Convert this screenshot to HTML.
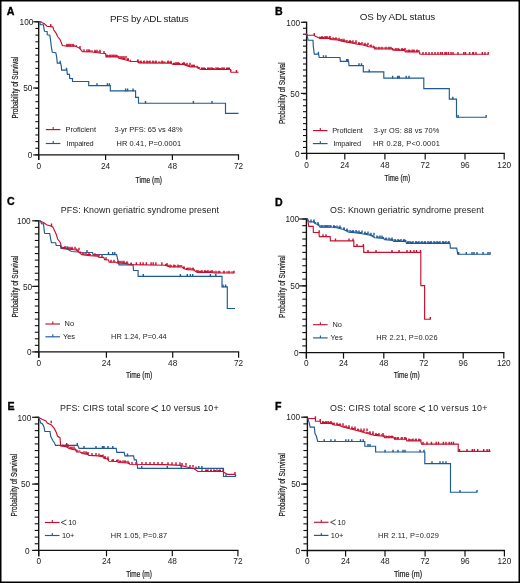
<!DOCTYPE html>
<html><head><meta charset="utf-8"><style>
html,body{margin:0;padding:0;background:#fff;}
svg{display:block;will-change:transform;}
text{font-family:"Liberation Sans",sans-serif;fill:#1a1a1a;}
.tk{font-size:9px;}
.lg{font-size:7.4px;}
.al{font-size:9.2px;stroke:#1a1a1a;stroke-width:0.22px;}
.ti{font-size:9.9px;}
.ti2{font-size:8.9px;}
.pl{font-size:10.6px;font-weight:bold;fill:#000;stroke:#000;stroke-width:0.35px;}
</style></head><body>
<svg width="520" height="583" viewBox="0 0 520 583">
<rect x="0.75" y="0.75" width="518.5" height="581.5" fill="#fff" stroke="#000" stroke-width="1.5"/>
<text x="6.8" y="14.8" class="pl">A</text>
<text x="275.1" y="15" class="pl">B</text>
<text x="7" y="205.3" class="pl">C</text>
<text x="275.1" y="205.7" class="pl">D</text>
<text x="7.4" y="409.8" class="pl">E</text>
<text x="275.1" y="409.8" class="pl">F</text>
<text x="110" y="21.5" class="ti" textLength="78.7" lengthAdjust="spacing">PFS by ADL status</text>
<text x="359.8" y="20.3" class="ti" textLength="75.4" lengthAdjust="spacing">OS by ADL status</text>
<text x="60.8" y="213" class="ti2" textLength="158.1" lengthAdjust="spacing">PFS: Known geriatric syndrome present</text>
<text x="330" y="213.4" class="ti2" textLength="153.7" lengthAdjust="spacing">OS: Known geriatric syndrome present</text>
<text x="59.9" y="411.2" class="ti2" textLength="89.2" lengthAdjust="spacing">PFS: CIRS total score</text>
<path d="M157.9,405.6 L151.5,408.65 L157.9,411.7" fill="none" stroke="#1a1a1a" stroke-width="0.95"/>
<text x="161" y="411.2" class="ti2" textLength="57.6" lengthAdjust="spacing">10 versus 10+</text>
<text x="330" y="411.2" class="ti2" textLength="86.2" lengthAdjust="spacing">OS: CIRS total score</text>
<path d="M425,406 L419,408.8 L425,411.6" fill="none" stroke="#1a1a1a" stroke-width="0.95"/>
<text x="428.1" y="411.2" class="ti2" textLength="59.3" lengthAdjust="spacing">10 versus 10+</text>
<text transform="translate(18,118.6) rotate(-90)" x="0" y="0" class="al" textLength="61.8" lengthAdjust="spacingAndGlyphs">Probability of Survival</text>
<text transform="translate(285.1,124.1) rotate(-90)" x="0" y="0" class="al" textLength="61.7" lengthAdjust="spacingAndGlyphs">Probability of Survival</text>
<text transform="translate(17.6,317.6) rotate(-90)" x="0" y="0" class="al" textLength="61.8" lengthAdjust="spacingAndGlyphs">Probability of Survival</text>
<text transform="translate(285.1,317.9) rotate(-90)" x="0" y="0" class="al" textLength="62.5" lengthAdjust="spacingAndGlyphs">Probability of Survival</text>
<text transform="translate(16.7,516.4) rotate(-90)" x="0" y="0" class="al" textLength="62.5" lengthAdjust="spacingAndGlyphs">Probability of Survival</text>
<text transform="translate(285.1,516.4) rotate(-90)" x="0" y="0" class="al" textLength="63.3" lengthAdjust="spacingAndGlyphs">Probability of Survival</text>
<text x="135.6" y="182.6" class="al" textLength="26.4" lengthAdjust="spacingAndGlyphs">Time (m)</text>
<text x="384.4" y="181.3" class="al" textLength="25.8" lengthAdjust="spacingAndGlyphs">Time (m)</text>
<text x="126" y="377.7" class="al" textLength="26.3" lengthAdjust="spacingAndGlyphs">Time (m)</text>
<text x="393.7" y="378" class="al" textLength="26.1" lengthAdjust="spacingAndGlyphs">Time (m)</text>
<text x="126.2" y="576.5" class="al" textLength="25.7" lengthAdjust="spacingAndGlyphs">Time (m)</text>
<text x="393.9" y="576.5" class="al" textLength="28.3" lengthAdjust="spacingAndGlyphs">Time (m)</text>
<line x1="38.7" y1="21.2" x2="38.7" y2="159.9" stroke="#111" stroke-width="1.35"/>
<line x1="38.7" y1="154.9" x2="239.1" y2="154.9" stroke="#111" stroke-width="1.35"/>
<line x1="35.4" y1="21.8" x2="38.7" y2="21.8" stroke="#111" stroke-width="1.1"/>
<line x1="35.4" y1="28.45" x2="38.7" y2="28.45" stroke="#111" stroke-width="1.1"/>
<line x1="35.4" y1="35.11" x2="38.7" y2="35.11" stroke="#111" stroke-width="1.1"/>
<line x1="35.4" y1="41.77" x2="38.7" y2="41.77" stroke="#111" stroke-width="1.1"/>
<line x1="35.4" y1="48.42" x2="38.7" y2="48.42" stroke="#111" stroke-width="1.1"/>
<line x1="35.4" y1="55.08" x2="38.7" y2="55.08" stroke="#111" stroke-width="1.1"/>
<line x1="35.4" y1="61.73" x2="38.7" y2="61.73" stroke="#111" stroke-width="1.1"/>
<line x1="35.4" y1="68.38" x2="38.7" y2="68.38" stroke="#111" stroke-width="1.1"/>
<line x1="35.4" y1="75.04" x2="38.7" y2="75.04" stroke="#111" stroke-width="1.1"/>
<line x1="35.4" y1="81.69" x2="38.7" y2="81.69" stroke="#111" stroke-width="1.1"/>
<line x1="35.4" y1="88.35" x2="38.7" y2="88.35" stroke="#111" stroke-width="1.1"/>
<line x1="35.4" y1="95" x2="38.7" y2="95" stroke="#111" stroke-width="1.1"/>
<line x1="35.4" y1="101.66" x2="38.7" y2="101.66" stroke="#111" stroke-width="1.1"/>
<line x1="35.4" y1="108.31" x2="38.7" y2="108.31" stroke="#111" stroke-width="1.1"/>
<line x1="35.4" y1="114.97" x2="38.7" y2="114.97" stroke="#111" stroke-width="1.1"/>
<line x1="35.4" y1="121.62" x2="38.7" y2="121.62" stroke="#111" stroke-width="1.1"/>
<line x1="35.4" y1="128.28" x2="38.7" y2="128.28" stroke="#111" stroke-width="1.1"/>
<line x1="35.4" y1="134.94" x2="38.7" y2="134.94" stroke="#111" stroke-width="1.1"/>
<line x1="35.4" y1="141.59" x2="38.7" y2="141.59" stroke="#111" stroke-width="1.1"/>
<line x1="35.4" y1="148.25" x2="38.7" y2="148.25" stroke="#111" stroke-width="1.1"/>
<line x1="35.4" y1="154.9" x2="38.7" y2="154.9" stroke="#111" stroke-width="1.1"/>
<line x1="33.2" y1="21.8" x2="38.7" y2="21.8" stroke="#111" stroke-width="1.2"/>
<text x="33.4" y="25" text-anchor="end" class="tk" textLength="13.8" lengthAdjust="spacingAndGlyphs">100</text>
<line x1="33.2" y1="88" x2="38.7" y2="88" stroke="#111" stroke-width="1.2"/>
<text x="32.4" y="91.2" text-anchor="end" class="tk" textLength="9.2" lengthAdjust="spacingAndGlyphs">50</text>
<line x1="33.2" y1="154.9" x2="38.7" y2="154.9" stroke="#111" stroke-width="1.2"/>
<text x="32.3" y="158.1" text-anchor="end" class="tk" textLength="4.6" lengthAdjust="spacingAndGlyphs">0</text>
<line x1="38.7" y1="154.9" x2="38.7" y2="159.9" stroke="#111" stroke-width="1.2"/>
<text x="38.7" y="169.1" text-anchor="middle" class="tk" textLength="4.6" lengthAdjust="spacingAndGlyphs">0</text>
<line x1="105.6" y1="154.9" x2="105.6" y2="159.9" stroke="#111" stroke-width="1.2"/>
<text x="105.6" y="169.1" text-anchor="middle" class="tk" textLength="9.2" lengthAdjust="spacingAndGlyphs">24</text>
<line x1="172.4" y1="154.9" x2="172.4" y2="159.9" stroke="#111" stroke-width="1.2"/>
<text x="172.4" y="169.1" text-anchor="middle" class="tk" textLength="9.2" lengthAdjust="spacingAndGlyphs">48</text>
<line x1="238.5" y1="154.9" x2="238.5" y2="159.9" stroke="#111" stroke-width="1.2"/>
<text x="238.5" y="169.1" text-anchor="middle" class="tk" textLength="9.2" lengthAdjust="spacingAndGlyphs">72</text>
<line x1="306.6" y1="21.7" x2="306.6" y2="159.4" stroke="#111" stroke-width="1.35"/>
<line x1="306.6" y1="153.4" x2="504.8" y2="153.4" stroke="#111" stroke-width="1.35"/>
<line x1="303" y1="22.3" x2="306.6" y2="22.3" stroke="#111" stroke-width="1.1"/>
<line x1="303" y1="28.26" x2="306.6" y2="28.26" stroke="#111" stroke-width="1.1"/>
<line x1="303" y1="34.22" x2="306.6" y2="34.22" stroke="#111" stroke-width="1.1"/>
<line x1="303" y1="40.18" x2="306.6" y2="40.18" stroke="#111" stroke-width="1.1"/>
<line x1="303" y1="46.14" x2="306.6" y2="46.14" stroke="#111" stroke-width="1.1"/>
<line x1="303" y1="52.1" x2="306.6" y2="52.1" stroke="#111" stroke-width="1.1"/>
<line x1="303" y1="58.05" x2="306.6" y2="58.05" stroke="#111" stroke-width="1.1"/>
<line x1="303" y1="64.01" x2="306.6" y2="64.01" stroke="#111" stroke-width="1.1"/>
<line x1="303" y1="69.97" x2="306.6" y2="69.97" stroke="#111" stroke-width="1.1"/>
<line x1="303" y1="75.93" x2="306.6" y2="75.93" stroke="#111" stroke-width="1.1"/>
<line x1="303" y1="81.89" x2="306.6" y2="81.89" stroke="#111" stroke-width="1.1"/>
<line x1="303" y1="87.85" x2="306.6" y2="87.85" stroke="#111" stroke-width="1.1"/>
<line x1="303" y1="93.81" x2="306.6" y2="93.81" stroke="#111" stroke-width="1.1"/>
<line x1="303" y1="99.77" x2="306.6" y2="99.77" stroke="#111" stroke-width="1.1"/>
<line x1="303" y1="105.73" x2="306.6" y2="105.73" stroke="#111" stroke-width="1.1"/>
<line x1="303" y1="111.69" x2="306.6" y2="111.69" stroke="#111" stroke-width="1.1"/>
<line x1="303" y1="117.65" x2="306.6" y2="117.65" stroke="#111" stroke-width="1.1"/>
<line x1="303" y1="123.6" x2="306.6" y2="123.6" stroke="#111" stroke-width="1.1"/>
<line x1="303" y1="129.56" x2="306.6" y2="129.56" stroke="#111" stroke-width="1.1"/>
<line x1="303" y1="135.52" x2="306.6" y2="135.52" stroke="#111" stroke-width="1.1"/>
<line x1="303" y1="141.48" x2="306.6" y2="141.48" stroke="#111" stroke-width="1.1"/>
<line x1="303" y1="147.44" x2="306.6" y2="147.44" stroke="#111" stroke-width="1.1"/>
<line x1="303" y1="153.4" x2="306.6" y2="153.4" stroke="#111" stroke-width="1.1"/>
<line x1="300.9" y1="22.3" x2="306.6" y2="22.3" stroke="#111" stroke-width="1.2"/>
<text x="300.1" y="25.5" text-anchor="end" class="tk" textLength="13.8" lengthAdjust="spacingAndGlyphs">100</text>
<line x1="300.9" y1="93.4" x2="306.6" y2="93.4" stroke="#111" stroke-width="1.2"/>
<text x="299.5" y="96.6" text-anchor="end" class="tk" textLength="9.2" lengthAdjust="spacingAndGlyphs">50</text>
<line x1="300.9" y1="153.4" x2="306.6" y2="153.4" stroke="#111" stroke-width="1.2"/>
<text x="299.5" y="156.6" text-anchor="end" class="tk" textLength="4.6" lengthAdjust="spacingAndGlyphs">0</text>
<line x1="306.6" y1="153.4" x2="306.6" y2="159.4" stroke="#111" stroke-width="1.2"/>
<text x="306.6" y="167.6" text-anchor="middle" class="tk" textLength="4.6" lengthAdjust="spacingAndGlyphs">0</text>
<line x1="344.8" y1="153.4" x2="344.8" y2="159.4" stroke="#111" stroke-width="1.2"/>
<text x="344.8" y="167.6" text-anchor="middle" class="tk" textLength="9.2" lengthAdjust="spacingAndGlyphs">24</text>
<line x1="384.9" y1="153.4" x2="384.9" y2="159.4" stroke="#111" stroke-width="1.2"/>
<text x="384.9" y="167.6" text-anchor="middle" class="tk" textLength="9.2" lengthAdjust="spacingAndGlyphs">48</text>
<line x1="425.2" y1="153.4" x2="425.2" y2="159.4" stroke="#111" stroke-width="1.2"/>
<text x="425.2" y="167.6" text-anchor="middle" class="tk" textLength="9.2" lengthAdjust="spacingAndGlyphs">72</text>
<line x1="465" y1="153.4" x2="465" y2="159.4" stroke="#111" stroke-width="1.2"/>
<text x="465" y="167.6" text-anchor="middle" class="tk" textLength="9.2" lengthAdjust="spacingAndGlyphs">96</text>
<line x1="504.2" y1="153.4" x2="504.2" y2="159.4" stroke="#111" stroke-width="1.2"/>
<text x="504.2" y="167.6" text-anchor="middle" class="tk" textLength="13.8" lengthAdjust="spacingAndGlyphs">120</text>
<line x1="38.8" y1="220.2" x2="38.8" y2="357.7" stroke="#111" stroke-width="1.35"/>
<line x1="38.8" y1="351.9" x2="239.2" y2="351.9" stroke="#111" stroke-width="1.35"/>
<line x1="34.8" y1="220.8" x2="38.8" y2="220.8" stroke="#111" stroke-width="1.1"/>
<line x1="34.8" y1="227.36" x2="38.8" y2="227.36" stroke="#111" stroke-width="1.1"/>
<line x1="34.8" y1="233.91" x2="38.8" y2="233.91" stroke="#111" stroke-width="1.1"/>
<line x1="34.8" y1="240.47" x2="38.8" y2="240.47" stroke="#111" stroke-width="1.1"/>
<line x1="34.8" y1="247.02" x2="38.8" y2="247.02" stroke="#111" stroke-width="1.1"/>
<line x1="34.8" y1="253.57" x2="38.8" y2="253.57" stroke="#111" stroke-width="1.1"/>
<line x1="34.8" y1="260.13" x2="38.8" y2="260.13" stroke="#111" stroke-width="1.1"/>
<line x1="34.8" y1="266.69" x2="38.8" y2="266.69" stroke="#111" stroke-width="1.1"/>
<line x1="34.8" y1="273.24" x2="38.8" y2="273.24" stroke="#111" stroke-width="1.1"/>
<line x1="34.8" y1="279.8" x2="38.8" y2="279.8" stroke="#111" stroke-width="1.1"/>
<line x1="34.8" y1="286.35" x2="38.8" y2="286.35" stroke="#111" stroke-width="1.1"/>
<line x1="34.8" y1="292.9" x2="38.8" y2="292.9" stroke="#111" stroke-width="1.1"/>
<line x1="34.8" y1="299.46" x2="38.8" y2="299.46" stroke="#111" stroke-width="1.1"/>
<line x1="34.8" y1="306.01" x2="38.8" y2="306.01" stroke="#111" stroke-width="1.1"/>
<line x1="34.8" y1="312.57" x2="38.8" y2="312.57" stroke="#111" stroke-width="1.1"/>
<line x1="34.8" y1="319.12" x2="38.8" y2="319.12" stroke="#111" stroke-width="1.1"/>
<line x1="34.8" y1="325.68" x2="38.8" y2="325.68" stroke="#111" stroke-width="1.1"/>
<line x1="34.8" y1="332.24" x2="38.8" y2="332.24" stroke="#111" stroke-width="1.1"/>
<line x1="34.8" y1="338.79" x2="38.8" y2="338.79" stroke="#111" stroke-width="1.1"/>
<line x1="34.8" y1="345.34" x2="38.8" y2="345.34" stroke="#111" stroke-width="1.1"/>
<line x1="34.8" y1="351.9" x2="38.8" y2="351.9" stroke="#111" stroke-width="1.1"/>
<line x1="32.2" y1="220.8" x2="38.8" y2="220.8" stroke="#111" stroke-width="1.2"/>
<text x="30.7" y="224" text-anchor="end" class="tk" textLength="13.8" lengthAdjust="spacingAndGlyphs">100</text>
<line x1="32.2" y1="286.4" x2="38.8" y2="286.4" stroke="#111" stroke-width="1.2"/>
<text x="32.1" y="289.6" text-anchor="end" class="tk" textLength="9.2" lengthAdjust="spacingAndGlyphs">50</text>
<line x1="32.2" y1="351.9" x2="38.8" y2="351.9" stroke="#111" stroke-width="1.2"/>
<text x="31.6" y="355.1" text-anchor="end" class="tk" textLength="4.6" lengthAdjust="spacingAndGlyphs">0</text>
<line x1="38.8" y1="351.9" x2="38.8" y2="357.7" stroke="#111" stroke-width="1.2"/>
<text x="38.8" y="365.6" text-anchor="middle" class="tk" textLength="4.6" lengthAdjust="spacingAndGlyphs">0</text>
<line x1="106.4" y1="351.9" x2="106.4" y2="357.7" stroke="#111" stroke-width="1.2"/>
<text x="106.4" y="365.6" text-anchor="middle" class="tk" textLength="9.2" lengthAdjust="spacingAndGlyphs">24</text>
<line x1="172.7" y1="351.9" x2="172.7" y2="357.7" stroke="#111" stroke-width="1.2"/>
<text x="172.7" y="365.6" text-anchor="middle" class="tk" textLength="9.2" lengthAdjust="spacingAndGlyphs">48</text>
<line x1="238.6" y1="351.9" x2="238.6" y2="357.7" stroke="#111" stroke-width="1.2"/>
<text x="238.6" y="365.6" text-anchor="middle" class="tk" textLength="9.2" lengthAdjust="spacingAndGlyphs">72</text>
<line x1="306.4" y1="218.4" x2="306.4" y2="358.6" stroke="#111" stroke-width="1.35"/>
<line x1="306.4" y1="352.6" x2="504.4" y2="352.6" stroke="#111" stroke-width="1.35"/>
<line x1="302.3" y1="219" x2="306.4" y2="219" stroke="#111" stroke-width="1.1"/>
<line x1="302.3" y1="225.68" x2="306.4" y2="225.68" stroke="#111" stroke-width="1.1"/>
<line x1="302.3" y1="232.36" x2="306.4" y2="232.36" stroke="#111" stroke-width="1.1"/>
<line x1="302.3" y1="239.04" x2="306.4" y2="239.04" stroke="#111" stroke-width="1.1"/>
<line x1="302.3" y1="245.72" x2="306.4" y2="245.72" stroke="#111" stroke-width="1.1"/>
<line x1="302.3" y1="252.4" x2="306.4" y2="252.4" stroke="#111" stroke-width="1.1"/>
<line x1="302.3" y1="259.08" x2="306.4" y2="259.08" stroke="#111" stroke-width="1.1"/>
<line x1="302.3" y1="265.76" x2="306.4" y2="265.76" stroke="#111" stroke-width="1.1"/>
<line x1="302.3" y1="272.44" x2="306.4" y2="272.44" stroke="#111" stroke-width="1.1"/>
<line x1="302.3" y1="279.12" x2="306.4" y2="279.12" stroke="#111" stroke-width="1.1"/>
<line x1="302.3" y1="285.8" x2="306.4" y2="285.8" stroke="#111" stroke-width="1.1"/>
<line x1="302.3" y1="292.48" x2="306.4" y2="292.48" stroke="#111" stroke-width="1.1"/>
<line x1="302.3" y1="299.16" x2="306.4" y2="299.16" stroke="#111" stroke-width="1.1"/>
<line x1="302.3" y1="305.84" x2="306.4" y2="305.84" stroke="#111" stroke-width="1.1"/>
<line x1="302.3" y1="312.52" x2="306.4" y2="312.52" stroke="#111" stroke-width="1.1"/>
<line x1="302.3" y1="319.2" x2="306.4" y2="319.2" stroke="#111" stroke-width="1.1"/>
<line x1="302.3" y1="325.88" x2="306.4" y2="325.88" stroke="#111" stroke-width="1.1"/>
<line x1="302.3" y1="332.56" x2="306.4" y2="332.56" stroke="#111" stroke-width="1.1"/>
<line x1="302.3" y1="339.24" x2="306.4" y2="339.24" stroke="#111" stroke-width="1.1"/>
<line x1="302.3" y1="345.92" x2="306.4" y2="345.92" stroke="#111" stroke-width="1.1"/>
<line x1="302.3" y1="352.6" x2="306.4" y2="352.6" stroke="#111" stroke-width="1.1"/>
<line x1="299.1" y1="219" x2="306.4" y2="219" stroke="#111" stroke-width="1.2"/>
<text x="299.2" y="222.2" text-anchor="end" class="tk" textLength="13.8" lengthAdjust="spacingAndGlyphs">100</text>
<line x1="299.1" y1="285.9" x2="306.4" y2="285.9" stroke="#111" stroke-width="1.2"/>
<text x="299.5" y="289.1" text-anchor="end" class="tk" textLength="9.2" lengthAdjust="spacingAndGlyphs">50</text>
<line x1="299.1" y1="352.6" x2="306.4" y2="352.6" stroke="#111" stroke-width="1.2"/>
<text x="298.7" y="355.8" text-anchor="end" class="tk" textLength="4.6" lengthAdjust="spacingAndGlyphs">0</text>
<line x1="306.4" y1="352.6" x2="306.4" y2="358.6" stroke="#111" stroke-width="1.2"/>
<text x="306.4" y="366.4" text-anchor="middle" class="tk" textLength="4.6" lengthAdjust="spacingAndGlyphs">0</text>
<line x1="343.5" y1="352.6" x2="343.5" y2="358.6" stroke="#111" stroke-width="1.2"/>
<text x="343.5" y="366.4" text-anchor="middle" class="tk" textLength="9.2" lengthAdjust="spacingAndGlyphs">24</text>
<line x1="383.8" y1="352.6" x2="383.8" y2="358.6" stroke="#111" stroke-width="1.2"/>
<text x="383.8" y="366.4" text-anchor="middle" class="tk" textLength="9.2" lengthAdjust="spacingAndGlyphs">48</text>
<line x1="423.8" y1="352.6" x2="423.8" y2="358.6" stroke="#111" stroke-width="1.2"/>
<text x="423.8" y="366.4" text-anchor="middle" class="tk" textLength="9.2" lengthAdjust="spacingAndGlyphs">72</text>
<line x1="463.2" y1="352.6" x2="463.2" y2="358.6" stroke="#111" stroke-width="1.2"/>
<text x="463.2" y="366.4" text-anchor="middle" class="tk" textLength="9.2" lengthAdjust="spacingAndGlyphs">96</text>
<line x1="503.8" y1="352.6" x2="503.8" y2="358.6" stroke="#111" stroke-width="1.2"/>
<text x="503.8" y="366.4" text-anchor="middle" class="tk" textLength="13.8" lengthAdjust="spacingAndGlyphs">120</text>
<line x1="38.7" y1="416.7" x2="38.7" y2="556.3" stroke="#111" stroke-width="1.35"/>
<line x1="38.7" y1="550.4" x2="238.5" y2="550.4" stroke="#111" stroke-width="1.35"/>
<line x1="34.7" y1="417.3" x2="38.7" y2="417.3" stroke="#111" stroke-width="1.1"/>
<line x1="34.7" y1="423.95" x2="38.7" y2="423.95" stroke="#111" stroke-width="1.1"/>
<line x1="34.7" y1="430.61" x2="38.7" y2="430.61" stroke="#111" stroke-width="1.1"/>
<line x1="34.7" y1="437.26" x2="38.7" y2="437.26" stroke="#111" stroke-width="1.1"/>
<line x1="34.7" y1="443.92" x2="38.7" y2="443.92" stroke="#111" stroke-width="1.1"/>
<line x1="34.7" y1="450.57" x2="38.7" y2="450.57" stroke="#111" stroke-width="1.1"/>
<line x1="34.7" y1="457.23" x2="38.7" y2="457.23" stroke="#111" stroke-width="1.1"/>
<line x1="34.7" y1="463.88" x2="38.7" y2="463.88" stroke="#111" stroke-width="1.1"/>
<line x1="34.7" y1="470.54" x2="38.7" y2="470.54" stroke="#111" stroke-width="1.1"/>
<line x1="34.7" y1="477.19" x2="38.7" y2="477.19" stroke="#111" stroke-width="1.1"/>
<line x1="34.7" y1="483.85" x2="38.7" y2="483.85" stroke="#111" stroke-width="1.1"/>
<line x1="34.7" y1="490.5" x2="38.7" y2="490.5" stroke="#111" stroke-width="1.1"/>
<line x1="34.7" y1="497.16" x2="38.7" y2="497.16" stroke="#111" stroke-width="1.1"/>
<line x1="34.7" y1="503.81" x2="38.7" y2="503.81" stroke="#111" stroke-width="1.1"/>
<line x1="34.7" y1="510.47" x2="38.7" y2="510.47" stroke="#111" stroke-width="1.1"/>
<line x1="34.7" y1="517.12" x2="38.7" y2="517.12" stroke="#111" stroke-width="1.1"/>
<line x1="34.7" y1="523.78" x2="38.7" y2="523.78" stroke="#111" stroke-width="1.1"/>
<line x1="34.7" y1="530.43" x2="38.7" y2="530.43" stroke="#111" stroke-width="1.1"/>
<line x1="34.7" y1="537.09" x2="38.7" y2="537.09" stroke="#111" stroke-width="1.1"/>
<line x1="34.7" y1="543.75" x2="38.7" y2="543.75" stroke="#111" stroke-width="1.1"/>
<line x1="34.7" y1="550.4" x2="38.7" y2="550.4" stroke="#111" stroke-width="1.1"/>
<line x1="32.1" y1="417.3" x2="38.7" y2="417.3" stroke="#111" stroke-width="1.2"/>
<text x="31.3" y="420.5" text-anchor="end" class="tk" textLength="13.8" lengthAdjust="spacingAndGlyphs">100</text>
<line x1="32.1" y1="484.1" x2="38.7" y2="484.1" stroke="#111" stroke-width="1.2"/>
<text x="30.1" y="487.3" text-anchor="end" class="tk" textLength="9.2" lengthAdjust="spacingAndGlyphs">50</text>
<line x1="32.1" y1="550.4" x2="38.7" y2="550.4" stroke="#111" stroke-width="1.2"/>
<text x="29.5" y="553.6" text-anchor="end" class="tk" textLength="4.6" lengthAdjust="spacingAndGlyphs">0</text>
<line x1="38.7" y1="550.4" x2="38.7" y2="556.3" stroke="#111" stroke-width="1.2"/>
<text x="38.7" y="564" text-anchor="middle" class="tk" textLength="4.6" lengthAdjust="spacingAndGlyphs">0</text>
<line x1="106.5" y1="550.4" x2="106.5" y2="556.3" stroke="#111" stroke-width="1.2"/>
<text x="106.5" y="564" text-anchor="middle" class="tk" textLength="9.2" lengthAdjust="spacingAndGlyphs">24</text>
<line x1="172.3" y1="550.4" x2="172.3" y2="556.3" stroke="#111" stroke-width="1.2"/>
<text x="172.3" y="564" text-anchor="middle" class="tk" textLength="9.2" lengthAdjust="spacingAndGlyphs">48</text>
<line x1="237.9" y1="550.4" x2="237.9" y2="556.3" stroke="#111" stroke-width="1.2"/>
<text x="237.9" y="564" text-anchor="middle" class="tk" textLength="9.2" lengthAdjust="spacingAndGlyphs">72</text>
<line x1="307.4" y1="416.6" x2="307.4" y2="556.5" stroke="#111" stroke-width="1.35"/>
<line x1="307.4" y1="550.5" x2="505" y2="550.5" stroke="#111" stroke-width="1.35"/>
<line x1="303.4" y1="417.2" x2="307.4" y2="417.2" stroke="#111" stroke-width="1.1"/>
<line x1="303.4" y1="423.87" x2="307.4" y2="423.87" stroke="#111" stroke-width="1.1"/>
<line x1="303.4" y1="430.53" x2="307.4" y2="430.53" stroke="#111" stroke-width="1.1"/>
<line x1="303.4" y1="437.19" x2="307.4" y2="437.19" stroke="#111" stroke-width="1.1"/>
<line x1="303.4" y1="443.86" x2="307.4" y2="443.86" stroke="#111" stroke-width="1.1"/>
<line x1="303.4" y1="450.52" x2="307.4" y2="450.52" stroke="#111" stroke-width="1.1"/>
<line x1="303.4" y1="457.19" x2="307.4" y2="457.19" stroke="#111" stroke-width="1.1"/>
<line x1="303.4" y1="463.86" x2="307.4" y2="463.86" stroke="#111" stroke-width="1.1"/>
<line x1="303.4" y1="470.52" x2="307.4" y2="470.52" stroke="#111" stroke-width="1.1"/>
<line x1="303.4" y1="477.19" x2="307.4" y2="477.19" stroke="#111" stroke-width="1.1"/>
<line x1="303.4" y1="483.85" x2="307.4" y2="483.85" stroke="#111" stroke-width="1.1"/>
<line x1="303.4" y1="490.51" x2="307.4" y2="490.51" stroke="#111" stroke-width="1.1"/>
<line x1="303.4" y1="497.18" x2="307.4" y2="497.18" stroke="#111" stroke-width="1.1"/>
<line x1="303.4" y1="503.85" x2="307.4" y2="503.85" stroke="#111" stroke-width="1.1"/>
<line x1="303.4" y1="510.51" x2="307.4" y2="510.51" stroke="#111" stroke-width="1.1"/>
<line x1="303.4" y1="517.17" x2="307.4" y2="517.17" stroke="#111" stroke-width="1.1"/>
<line x1="303.4" y1="523.84" x2="307.4" y2="523.84" stroke="#111" stroke-width="1.1"/>
<line x1="303.4" y1="530.5" x2="307.4" y2="530.5" stroke="#111" stroke-width="1.1"/>
<line x1="303.4" y1="537.17" x2="307.4" y2="537.17" stroke="#111" stroke-width="1.1"/>
<line x1="303.4" y1="543.84" x2="307.4" y2="543.84" stroke="#111" stroke-width="1.1"/>
<line x1="303.4" y1="550.5" x2="307.4" y2="550.5" stroke="#111" stroke-width="1.1"/>
<line x1="301.1" y1="417.2" x2="307.4" y2="417.2" stroke="#111" stroke-width="1.2"/>
<text x="300.1" y="420.4" text-anchor="end" class="tk" textLength="13.8" lengthAdjust="spacingAndGlyphs">100</text>
<line x1="301.1" y1="484.1" x2="307.4" y2="484.1" stroke="#111" stroke-width="1.2"/>
<text x="300.4" y="487.3" text-anchor="end" class="tk" textLength="9.2" lengthAdjust="spacingAndGlyphs">50</text>
<line x1="301.1" y1="550.5" x2="307.4" y2="550.5" stroke="#111" stroke-width="1.2"/>
<text x="300.2" y="553.7" text-anchor="end" class="tk" textLength="4.6" lengthAdjust="spacingAndGlyphs">0</text>
<line x1="307.4" y1="550.5" x2="307.4" y2="556.5" stroke="#111" stroke-width="1.2"/>
<text x="307.4" y="563.7" text-anchor="middle" class="tk" textLength="4.6" lengthAdjust="spacingAndGlyphs">0</text>
<line x1="345.6" y1="550.5" x2="345.6" y2="556.5" stroke="#111" stroke-width="1.2"/>
<text x="345.6" y="563.7" text-anchor="middle" class="tk" textLength="9.2" lengthAdjust="spacingAndGlyphs">24</text>
<line x1="385" y1="550.5" x2="385" y2="556.5" stroke="#111" stroke-width="1.2"/>
<text x="385" y="563.7" text-anchor="middle" class="tk" textLength="9.2" lengthAdjust="spacingAndGlyphs">48</text>
<line x1="425.1" y1="550.5" x2="425.1" y2="556.5" stroke="#111" stroke-width="1.2"/>
<text x="425.1" y="563.7" text-anchor="middle" class="tk" textLength="9.2" lengthAdjust="spacingAndGlyphs">72</text>
<line x1="465" y1="550.5" x2="465" y2="556.5" stroke="#111" stroke-width="1.2"/>
<text x="465" y="563.7" text-anchor="middle" class="tk" textLength="9.2" lengthAdjust="spacingAndGlyphs">96</text>
<line x1="504.4" y1="550.5" x2="504.4" y2="556.5" stroke="#111" stroke-width="1.2"/>
<text x="504.4" y="563.7" text-anchor="middle" class="tk" textLength="13.8" lengthAdjust="spacingAndGlyphs">120</text>
<line x1="45.8" y1="129.6" x2="60.4" y2="129.6" stroke="#c8102e" stroke-width="1.15"/>
<line x1="53.2" y1="129.6" x2="53.2" y2="127.1" stroke="#c8102e" stroke-width="1.1"/>
<line x1="45.8" y1="143.5" x2="60.4" y2="143.5" stroke="#1d5a96" stroke-width="1.15"/>
<line x1="53.2" y1="143.5" x2="53.2" y2="141" stroke="#1d5a96" stroke-width="1.1"/>
<text x="65.6" y="132" class="lg" textLength="30.4" lengthAdjust="spacing">Proficient</text>
<text x="66.6" y="145.9" class="lg" textLength="27.1" lengthAdjust="spacing">Impaired</text>
<text x="114.5" y="132" class="lg" textLength="68" lengthAdjust="spacing">3-yr PFS: 65 vs 48%</text>
<text x="116.5" y="145.9" class="lg" textLength="64.5" lengthAdjust="spacing">HR 0.41, P=0.0001</text>
<line x1="312.9" y1="130.6" x2="327.5" y2="130.6" stroke="#c8102e" stroke-width="1.15"/>
<line x1="320.3" y1="130.6" x2="320.3" y2="128.1" stroke="#c8102e" stroke-width="1.1"/>
<line x1="312.9" y1="143.6" x2="327.5" y2="143.6" stroke="#1d5a96" stroke-width="1.15"/>
<line x1="320.3" y1="143.6" x2="320.3" y2="141.1" stroke="#1d5a96" stroke-width="1.1"/>
<text x="332.2" y="133" class="lg" textLength="30.6" lengthAdjust="spacing">Proficient</text>
<text x="333.4" y="146" class="lg" textLength="27.8" lengthAdjust="spacing">Impaired</text>
<text x="373.8" y="133" class="lg" textLength="65.5" lengthAdjust="spacing">3-yr OS: 88 vs 70%</text>
<text x="373" y="146" class="lg" textLength="66.9" lengthAdjust="spacing">HR 0.28, P&lt;0.0001</text>
<line x1="45.4" y1="324" x2="60" y2="324" stroke="#c8102e" stroke-width="1.15"/>
<line x1="52.8" y1="324" x2="52.8" y2="321.5" stroke="#c8102e" stroke-width="1.1"/>
<line x1="45.4" y1="336.8" x2="60" y2="336.8" stroke="#1d5a96" stroke-width="1.15"/>
<line x1="52.8" y1="336.8" x2="52.8" y2="334.3" stroke="#1d5a96" stroke-width="1.1"/>
<text x="64.6" y="326.4" class="lg">No</text>
<text x="63" y="339.2" class="lg">Yes</text>
<text x="111" y="339.2" class="lg" textLength="55.7" lengthAdjust="spacing">HR 1.24, P=0.44</text>
<line x1="313" y1="324.7" x2="327.6" y2="324.7" stroke="#c8102e" stroke-width="1.15"/>
<line x1="320.4" y1="324.7" x2="320.4" y2="322.2" stroke="#c8102e" stroke-width="1.1"/>
<line x1="313" y1="337.9" x2="327.6" y2="337.9" stroke="#1d5a96" stroke-width="1.15"/>
<line x1="320.4" y1="337.9" x2="320.4" y2="335.4" stroke="#1d5a96" stroke-width="1.1"/>
<text x="332.4" y="327.1" class="lg">No</text>
<text x="330.6" y="340.3" class="lg">Yes</text>
<text x="376.3" y="340.3" class="lg" textLength="61.2" lengthAdjust="spacing">HR 2.21, P=0.026</text>
<path d="M66.4,519.9 L61.2,522.45 L66.4,525" fill="none" stroke="#1a1a1a" stroke-width="0.8"/>
<line x1="44.9" y1="522.5" x2="59.5" y2="522.5" stroke="#c8102e" stroke-width="1.15"/>
<line x1="52.3" y1="522.5" x2="52.3" y2="520" stroke="#c8102e" stroke-width="1.1"/>
<line x1="44.9" y1="535.5" x2="59.5" y2="535.5" stroke="#1d5a96" stroke-width="1.15"/>
<line x1="52.3" y1="535.5" x2="52.3" y2="533" stroke="#1d5a96" stroke-width="1.1"/>
<text x="68.2" y="524.9" class="lg">10</text>
<text x="61.9" y="537.9" class="lg">10+</text>
<text x="110.8" y="537.9" class="lg" textLength="56.4" lengthAdjust="spacing">HR 1.05, P=0.87</text>
<path d="M335.7,519.7 L330.5,522.25 L335.7,524.8" fill="none" stroke="#1a1a1a" stroke-width="0.8"/>
<line x1="313.9" y1="522.3" x2="328.5" y2="522.3" stroke="#c8102e" stroke-width="1.15"/>
<line x1="321.3" y1="522.3" x2="321.3" y2="519.8" stroke="#c8102e" stroke-width="1.1"/>
<line x1="313.9" y1="535.4" x2="328.5" y2="535.4" stroke="#1d5a96" stroke-width="1.15"/>
<line x1="321.3" y1="535.4" x2="321.3" y2="532.9" stroke="#1d5a96" stroke-width="1.1"/>
<text x="337.4" y="524.7" class="lg">10</text>
<text x="330.8" y="537.8" class="lg">10+</text>
<text x="377.9" y="537.8" class="lg" textLength="61" lengthAdjust="spacing">HR 2.11, P=0.029</text>
<path d="M38.7,21.7 L40.1,21.7 L40.1,24.7 L43.5,24.7 L43.9,28.3 L44.5,31.2 L47.1,31.5 L47.3,34.8 L49.8,35.3 L50.4,38.6 L51.2,45.8 L52.3,52.3 L55.8,52.7 L56.6,56.6 L57.3,63.1 L60.6,63.1 L61.3,66 L61.6,70.1 L66.8,70.1 L67.4,74.3 L69.5,74.3 L69.7,78.4 L72.5,78.6 L72.5,81.5 L88.7,81.5 L88.7,85.6 L110.3,85.6 L110.3,90.9 L135.6,90.9 L135.6,97.4 L138.5,97.4 L138.5,103.2 L225.5,103.2 L225.5,113.3 L238.5,113.3" fill="none" stroke="#1d5a96" stroke-width="1.15" stroke-linejoin="miter"/>
<path d="M60.2,63.4 V60.8 M66.5,70.4 V67.8 M97,85.9 V83.3 M107.4,85.9 V83.3 M109.4,85.9 V83.3 M125.6,91.2 V88.6 M127.6,91.2 V88.6 M133,91.2 V88.6 M145.5,103.5 V100.9 M193.4,103.5 V100.9 M212,103.5 V100.9 " fill="none" stroke="#1d5a96" stroke-width="1.4"/>
<path d="M38.7,21.7 L41.1,21.7 L42.1,22.8 L44.5,23.8 L47,26.2 L52.8,26.9 L53.8,30 L56.2,33.4 L57.6,36.5 L60.3,40 L62.4,45.5 L67,46.1 L75.7,46.3 L79.7,48.3 L82.4,51.6 L91.8,52 L101.3,53.3 L105.6,53.5 L106,56.8 L117.5,56.8 L118.8,58.2 L126.9,60.2 L131,61.5 L137,61.5 L139,62.9 L170.4,63.1 L173,64.4 L183.8,64.4 L185.2,65.1 L190.1,66.8 L196.2,66.8 L198.2,68.2 L200.9,69.5 L230.5,69.5 L230.9,72.2 L238.5,72.2" fill="none" stroke="#c8102e" stroke-width="1.15" stroke-linejoin="miter"/>
<path d="M50.8,26.5 V23.9 M67,46.4 V43.8 M69,46.4 V43.8 M71,46.4 V43.8 M73,46.4 V43.8 M80,48.6 V46 M84,51.9 V49.3 M87,51.9 V49.3 M89,51.9 V49.3 M95,52.3 V49.7 M97,52.3 V49.7 M100,52.3 V49.7 M104,53.6 V51 M107,57.1 V54.5 M110,57.1 V54.5 M112,57.1 V54.5 M114,57.1 V54.5 M116,57.1 V54.5 M120,58.5 V55.9 M122,58.5 V55.9 M124,58.5 V55.9 M126,58.5 V55.9 M128,60.5 V57.9 M138,61.8 V59.2 M141,63.2 V60.6 M144,63.2 V60.6 M147,63.2 V60.6 M150,63.2 V60.6 M153,63.2 V60.6 M156,63.2 V60.6 M162,63.2 V60.6 M168,63.2 V60.6 M171,63.4 V60.8 M176,64.7 V62.1 M178,64.7 V62.1 M184,64.7 V62.1 M187,65.4 V62.8 M190,65.4 V62.8 M192,67.1 V64.5 M194,67.1 V64.5 M202,69.8 V67.2 M204,69.8 V67.2 M208,69.8 V67.2 M210,69.8 V67.2 M212,69.8 V67.2 M216,69.8 V67.2 M218,69.8 V67.2 M222,69.8 V67.2 M224,69.8 V67.2 M227,69.8 V67.2 M229,69.8 V67.2 M236.5,72.5 V69.9 " fill="none" stroke="#c8102e" stroke-width="1.4"/>
<path d="M306.4,33.5 L307.1,35.9 L308.1,40.2 L313,40.2 L313.3,46.5 L314.3,54.1 L318.6,54.1 L319.2,57.5 L340,57.5 L340.4,61.3 L348.6,61.3 L349,65.6 L363.3,65.6 L363.3,71.9 L383.8,71.9 L383.8,78.1 L423.8,78.1 L423.8,88.6 L449.3,88.6 L449.3,99.1 L456.5,99.1 L456.5,117.2 L486.3,117.2" fill="none" stroke="#1d5a96" stroke-width="1.15" stroke-linejoin="miter"/>
<path d="M318.4,54.4 V51.8 M323.5,57.8 V55.2 M326,57.8 V55.2 M346.7,61.6 V59 M348,61.6 V59 M359,65.9 V63.3 M361.5,65.9 V63.3 M369.2,72.2 V69.6 M392.6,78.4 V75.8 M397.7,78.4 V75.8 M399.2,78.4 V75.8 M406.2,78.4 V75.8 M409,78.4 V75.8 M452.8,99.4 V96.8 M458.1,117.5 V114.9 M486.2,117.5 V114.9 " fill="none" stroke="#1d5a96" stroke-width="1.4"/>
<path d="M306.4,33.5 L307.4,35.2 L314.2,35.2 L315.3,36.2 L317.7,37.3 L319.8,38.4 L329.4,38.2 L330.1,39.5 L337.4,40 L342,41.1 L346.7,42.3 L350.4,42.6 L357.3,44.2 L363.1,45 L368.8,46.7 L373.8,47.3 L374.6,49 L392,49 L393.1,50.2 L404.6,50.4 L405.4,51.9 L419.2,51.9 L420,54.2 L488.6,54.2" fill="none" stroke="#c8102e" stroke-width="1.15" stroke-linejoin="miter"/>
<path d="M314.3,35.5 V32.9 M322,38.7 V36.1 M325,38.7 V36.1 M327,38.7 V36.1 M330,38.5 V35.9 M333,39.8 V37.2 M336,39.8 V37.2 M339,40.3 V37.7 M342,41.4 V38.8 M344,41.4 V38.8 M347,42.6 V40 M350,42.6 V40 M353,42.9 V40.3 M356,42.9 V40.3 M359,44.5 V41.9 M362,44.5 V41.9 M365,45.3 V42.7 M368,45.3 V42.7 M371,47 V44.4 M376,49.3 V46.7 M379,49.3 V46.7 M382,49.3 V46.7 M386,49.3 V46.7 M389,49.3 V46.7 M391,49.3 V46.7 M396,50.5 V47.9 M398,50.5 V47.9 M402,50.5 V47.9 M405,50.7 V48.1 M409,52.2 V49.6 M412,52.2 V49.6 M414,52.2 V49.6 M417,52.2 V49.6 M423,54.5 V51.9 M426,54.5 V51.9 M429,54.5 V51.9 M432,54.5 V51.9 M435,54.5 V51.9 M438,54.5 V51.9 M440.5,54.5 V51.9 M442.3,54.5 V51.9 M445,54.5 V51.9 M446.5,54.5 V51.9 M448.5,54.5 V51.9 M451,54.5 V51.9 M453,54.5 V51.9 M458,54.5 V51.9 M463.8,54.5 V51.9 M465.5,54.5 V51.9 M469.6,54.5 V51.9 M472.8,54.5 V51.9 M473.5,54.5 V51.9 M476,54.5 V51.9 M482.3,54.5 V51.9 M485,54.5 V51.9 M488.2,54.5 V51.9 " fill="none" stroke="#c8102e" stroke-width="1.4"/>
<path d="M38.7,221 L40.5,221 L41.5,223.7 L43.5,223.9 L44.5,232.8 L44.9,233.5 L49.7,233.5 L50.5,238 L51.4,242.6 L55.7,242.7 L56.2,245.5 L60.3,245.5 L61,248.5 L66.3,248.6 L71.5,251.5 L81.5,252.3 L92.5,252.5 L93,254.2 L116.6,254.6 L119,264.8 L133.1,264.8 L133.5,270.5 L138.1,270.5 L138.1,276.4 L222,276.4 L222,286.9 L227.3,286.9 L227.3,308.5 L235,308.5" fill="none" stroke="#1d5a96" stroke-width="1.15" stroke-linejoin="miter"/>
<path d="M67,248.9 V246.3 M87,252.6 V250 M108.5,254.5 V251.9 M112.7,254.5 V251.9 M114.8,254.5 V251.9 M131.2,265.1 V262.5 M143.3,276.7 V274.1 M180.4,276.7 V274.1 M187.3,276.7 V274.1 M190.4,276.7 V274.1 M192.7,276.7 V274.1 M210.4,276.7 V274.1 M215.8,276.7 V274.1 M223,287.2 V284.6 M225.6,287.2 V284.6 " fill="none" stroke="#1d5a96" stroke-width="1.4"/>
<path d="M38.7,221 L40.1,221 L41.8,221.8 L43.9,222.8 L46.6,224.8 L50,225.8 L52.8,227 L53.5,228.6 L54.5,230.5 L56.2,234.2 L57.6,239 L60.3,242.4 L61.7,248.2 L66.5,249 L76.4,250 L81.8,254.7 L89.8,255.6 L97.7,256.2 L99.2,257.3 L103.8,257.3 L104.6,259.6 L108.5,260 L109.2,262.1 L115.4,262.1 L117,263 L125.4,263.5 L130,264.6 L165,265.2 L169.6,266.9 L181.9,266.9 L183.5,268.5 L187.3,269.7 L193.5,270 L197.3,272.3 L211.2,272.3 L214.2,273 L234.2,273" fill="none" stroke="#c8102e" stroke-width="1.15" stroke-linejoin="miter"/>
<path d="M51.5,226.1 V223.5 M65,248.5 V245.9 M68,249.3 V246.7 M70,249.3 V246.7 M72,249.3 V246.7 M75,249.3 V246.7 M79,250.3 V247.7 M83,255 V252.4 M86,255 V252.4 M89,255 V252.4 M95,255.9 V253.3 M99,256.5 V253.9 M102,257.6 V255 M106,259.9 V257.3 M111,262.4 V259.8 M114,262.4 V259.8 M118,263.3 V260.7 M120,263.3 V260.7 M122,263.3 V260.7 M124,263.3 V260.7 M127,263.8 V261.2 M136.3,264.9 V262.3 M140.4,264.9 V262.3 M143.1,264.9 V262.3 M146.4,264.9 V262.3 M151.1,264.9 V262.3 M153.2,264.9 V262.3 M155.9,264.9 V262.3 M161.9,264.9 V262.3 M167,265.5 V262.9 M170,267.2 V264.6 M174,267.2 V264.6 M178,267.2 V264.6 M184,268.8 V266.2 M188,270 V267.4 M190,270 V267.4 M193,270 V267.4 M198,272.6 V270 M202,272.6 V270 M205,272.6 V270 M208,272.6 V270 M212,272.6 V270 M216,273.3 V270.7 M219,273.3 V270.7 M224,273.3 V270.7 M229,273.3 V270.7 M234,273.3 V270.7 " fill="none" stroke="#c8102e" stroke-width="1.4"/>
<path d="M306.3,219 L307.5,219 L308.1,222.2 L308.8,226.4 L313.2,226.4 L313.4,232.5 L319,232.5 L319.3,236.6 L330.2,236.6 L330.4,240.8 L353.8,240.8 L353.8,246.3 L363.7,246.3 L363.7,252.3 L420.8,252.3 L420.8,285.6 L424.6,285.6 L424.6,319.2 L430.4,319.2" fill="none" stroke="#c8102e" stroke-width="1.15" stroke-linejoin="miter"/>
<path d="M319.2,232.8 V230.2 M323,236.9 V234.3 M326,236.9 V234.3 M335.5,241.1 V238.5 M349,241.1 V238.5 M353,241.1 V238.5 M357,246.6 V244 M363.4,246.6 V244 M368,252.6 V250 M376,252.6 V250 M392,252.6 V250 M399,252.6 V250 M407,252.6 V250 M410.5,252.6 V250 M414,252.6 V250 M416.5,252.6 V250 M420.5,252.6 V250 M430.3,319.5 V316.9 " fill="none" stroke="#c8102e" stroke-width="1.4"/>
<path d="M306.3,218.5 L307.1,218.5 L308.5,220.9 L309.5,221.9 L313.3,221.9 L315,223.6 L317,224.3 L319.1,225.7 L320.1,227.2 L332.6,227.2 L336.6,227.7 L343.4,229.5 L346,230.8 L348.8,232.2 L356.8,232.9 L362.2,233.8 L370,235.1 L374.7,237.8 L383.5,238.5 L384.8,239.8 L392.9,240.5 L393.6,241.4 L405.7,241.4 L406.5,243.3 L450,243.3 L450.4,248.1 L456.7,248.1 L457.7,254.2 L490.4,254.2" fill="none" stroke="#1d5a96" stroke-width="1.15" stroke-linejoin="miter"/>
<path d="M311,222.2 V219.6 M314,222.2 V219.6 M318,224.6 V222 M322,227.5 V224.9 M324,227.5 V224.9 M326,227.5 V224.9 M328,227.5 V224.9 M330,227.5 V224.9 M334,227.5 V224.9 M337,228 V225.4 M340,228 V225.4 M344,229.8 V227.2 M347,231.1 V228.5 M350,232.5 V229.9 M353,232.5 V229.9 M356,232.5 V229.9 M359,233.2 V230.6 M362,233.2 V230.6 M365,234.1 V231.5 M368,234.1 V231.5 M371,235.4 V232.8 M374,235.4 V232.8 M377,238.1 V235.5 M380,238.1 V235.5 M382,238.1 V235.5 M386,240.1 V237.5 M389,240.1 V237.5 M392,240.1 V237.5 M395,241.7 V239.1 M398,241.7 V239.1 M401,241.7 V239.1 M404,241.7 V239.1 M408,243.6 V241 M410,243.6 V241 M413,243.6 V241 M416,243.6 V241 M419,243.6 V241 M422,243.6 V241 M425,243.6 V241 M428,243.6 V241 M431,243.6 V241 M434,243.6 V241 M437,243.6 V241 M440,243.6 V241 M443,243.6 V241 M446,243.6 V241 M449,243.6 V241 M458.7,254.5 V251.9 M466.3,254.5 V251.9 M472,254.5 V251.9 M474,254.5 V251.9 M477,254.5 V251.9 M483,254.5 V251.9 M488,254.5 V251.9 M490,254.5 V251.9 " fill="none" stroke="#1d5a96" stroke-width="1.4"/>
<path d="M38.6,417.7 L39.4,419.2 L40.8,423 L42.5,424 L43.9,426.7 L44.9,431.5 L50,431.5 L50.7,436.3 L52.8,440.5 L54.2,442.5 L55.5,445.3 L77.7,445.3 L79.1,448.3 L116.2,448.3 L116.8,452.4 L124.2,452.4 L124.9,455.9 L133.6,455.9 L134.3,459.9 L136.3,459.9 L137.7,468.3 L223.5,468.3 L223.5,476.5 L235.8,476.5" fill="none" stroke="#1d5a96" stroke-width="1.15" stroke-linejoin="miter"/>
<path d="M66.7,445.6 V443 M77.3,445.6 V443 M84,448.6 V446 M96,448.6 V446 M102.5,448.6 V446 M104,448.6 V446 M108,448.6 V446 M112.8,448.6 V446 M127.5,456.2 V453.6 M141.7,468.6 V466 M167.3,468.6 V466 M181.2,468.6 V466 M198.8,468.6 V466 M201.9,468.6 V466 M226,476.8 V474.2 M235.5,476.8 V474.2 " fill="none" stroke="#1d5a96" stroke-width="1.4"/>
<path d="M38.6,417.7 L39.4,417.8 L42.5,419.5 L45.9,420.9 L47.3,423 L51.4,425 L54.2,428.4 L56.2,432.2 L57.6,436.3 L60,437.7 L60.7,446 L65.8,446.6 L69.6,448.7 L75.4,450 L76.8,452 L80.2,452 L82.1,453.5 L87.9,454.4 L88.8,455.4 L98.5,455.9 L99.4,456.3 L102.9,456.7 L103.8,458.2 L106.7,458.7 L109.1,461.2 L116.8,461.5 L118.8,462.5 L127.9,463 L129.8,464.3 L165,464.6 L180.4,465.4 L188,467.2 L194.2,468.8 L198,471.5 L222.7,471.5 L227.3,474.3 L235,474.3" fill="none" stroke="#c8102e" stroke-width="1.15" stroke-linejoin="miter"/>
<path d="M51.2,423.3 V420.7 M66,446.9 V444.3 M68,446.9 V444.3 M70,449 V446.4 M72,449 V446.4 M74,449 V446.4 M77,452.3 V449.7 M84,453.8 V451.2 M86,453.8 V451.2 M88,454.7 V452.1 M92,455.7 V453.1 M96,455.7 V453.1 M99,456.2 V453.6 M103,457 V454.4 M105,458.5 V455.9 M108,459 V456.4 M113,461.5 V458.9 M118,461.8 V459.2 M120,462.8 V460.2 M123,462.8 V460.2 M125,462.8 V460.2 M128,463.3 V460.7 M132,464.6 V462 M136,464.6 V462 M142,464.6 V462 M146,464.6 V462 M150,464.6 V462 M154,464.6 V462 M158,464.6 V462 M162,464.6 V462 M168,464.9 V462.3 M172,464.9 V462.3 M176,464.9 V462.3 M180,464.9 V462.3 M182,465.7 V463.1 M186,465.7 V463.1 M190,467.5 V464.9 M193,467.5 V464.9 M196,469.1 V466.5 M202,471.8 V469.2 M206,471.8 V469.2 M208,471.8 V469.2 M211,471.8 V469.2 M214,471.8 V469.2 M217,471.8 V469.2 M220,471.8 V469.2 M223,471.8 V469.2 M235,474.6 V472 " fill="none" stroke="#c8102e" stroke-width="1.4"/>
<path d="M307.2,418.5 L308.1,419.2 L309.1,422.6 L310.2,427.1 L314.3,427.1 L315,433.6 L316.4,436.3 L317.7,441.5 L364.8,441.5 L364.8,446.2 L375.6,446.2 L375.6,452 L424.8,452 L424.8,463.6 L450.5,463.6 L450.5,492.2 L477,492.2" fill="none" stroke="#1d5a96" stroke-width="1.15" stroke-linejoin="miter"/>
<path d="M324.2,441.8 V439.2 M330.9,441.8 V439.2 M335,441.8 V439.2 M345.8,441.8 V439.2 M348.5,441.8 V439.2 M351.8,441.8 V439.2 M360.5,441.8 V439.2 M363.2,441.8 V439.2 M368,446.5 V443.9 M370,446.5 V443.9 M385,452.3 V449.7 M393,452.3 V449.7 M398,452.3 V449.7 M403,452.3 V449.7 M405,452.3 V449.7 M420,452.3 V449.7 M424,452.3 V449.7 M432,463.9 V461.3 M440,463.9 V461.3 M443,463.9 V461.3 M446,463.9 V461.3 M460,492.5 V489.9 M477,492.5 V489.9 " fill="none" stroke="#1d5a96" stroke-width="1.4"/>
<path d="M307.2,418.5 L315.5,418.5 L315.5,421.2 L320.3,421.2 L320.8,423.3 L331.5,423.3 L332.8,424.7 L339,425.5 L344.4,427.5 L349.8,428.8 L357.8,430.8 L367.3,433.5 L374.6,435.4 L383.8,436.2 L384.6,437.7 L393.8,437.7 L394.6,439.2 L406.2,439.2 L406.9,440.8 L420.8,440.8 L421.5,444.1 L458.2,444.1 L458.2,451.3 L490.5,451.3" fill="none" stroke="#c8102e" stroke-width="1.15" stroke-linejoin="miter"/>
<path d="M315.4,418.8 V416.2 M320.2,421.5 V418.9 M323,423.6 V421 M326,423.6 V421 M328,423.6 V421 M331,423.6 V421 M334,425 V422.4 M337,425 V422.4 M340,425.8 V423.2 M343,425.8 V423.2 M346,427.8 V425.2 M349,427.8 V425.2 M352,429.1 V426.5 M355,429.1 V426.5 M358,431.1 V428.5 M361,431.1 V428.5 M364,431.1 V428.5 M367,431.1 V428.5 M370,433.8 V431.2 M373,433.8 V431.2 M376,435.7 V433.1 M379,435.7 V433.1 M383,435.7 V433.1 M386,438 V435.4 M389,438 V435.4 M392,438 V435.4 M395,439.5 V436.9 M398,439.5 V436.9 M402,439.5 V436.9 M405,439.5 V436.9 M409,441.1 V438.5 M413,441.1 V438.5 M416,441.1 V438.5 M419,441.1 V438.5 M423,444.4 V441.8 M427,444.4 V441.8 M431.5,444.4 V441.8 M436.2,444.4 V441.8 M438.5,444.4 V441.8 M443.4,444.4 V441.8 M446,444.4 V441.8 M449.2,444.4 V441.8 M451.4,444.4 V441.8 M453.5,444.4 V441.8 M459.5,451.6 V449 M467,451.6 V449 M472.3,451.6 V449 M474.3,451.6 V449 M477.7,451.6 V449 M483.7,451.6 V449 M487.1,451.6 V449 M489.3,451.6 V449 " fill="none" stroke="#c8102e" stroke-width="1.4"/>
<path d="M66,44.97 L67,45.1 L75.7,45.3 L77,45.95 M88,50.84 L91.8,51 L101,52.26 M106,55.8 L106,55.8 L117.5,55.8 L118.8,57.2 L126.9,59.2 L131,60.5 L131,60.5 M137,60.5 L137,60.5 L139,61.9 L170.4,62.1 L173,63.4 L183.8,63.4 L185.2,64.1 L190.1,65.8 L196.2,65.8 L198.2,67.2 L200,68.07 M201,68.5 L230.5,68.5 L230.9,71.2 L231,71.2 " fill="none" stroke="#c8102e" stroke-width="1.2" stroke-dasharray="5 1.2 2.5 1 4 1.5"/>
<path d="M319,36.98 L319.8,37.4 L329.4,37.2 L330.1,38.5 L337.4,39 L342,40.1 L346.7,41.3 L350.4,41.6 L357.3,43.2 L363.1,44 L368.8,45.7 L373.8,46.3 L374.6,48 L392,48 L393.1,49.2 L404.6,49.4 L405.4,50.9 L419.2,50.9 L420,53.2 L420,53.2 " fill="none" stroke="#c8102e" stroke-width="1.2" stroke-dasharray="5 1.2 2.5 1 4 1.5"/>
<path d="M62,247.25 L66.5,248 L76.4,249 L81.8,253.7 L89.8,254.6 L97.7,255.2 L99.2,256.3 L100,256.3 M117,262 L117,262 L125.4,262.5 L130,263.6 L132,263.63 M165,264.2 L165,264.2 L169.6,265.9 L181.9,265.9 L183.5,267.5 L187.3,268.7 L193.5,269 L197.3,271.3 L211.2,271.3 L214.2,272 L234,272 " fill="none" stroke="#c8102e" stroke-width="1.2" stroke-dasharray="4 1.5 2 1 3 2"/>
<path d="M313,220.9 L313.3,220.9 L315,222.6 L317,223.3 L319.1,224.7 L320.1,226.2 L332.6,226.2 L336.6,226.7 L343.4,228.5 L346,229.8 L348.8,231.2 L356.8,231.9 L362.2,232.8 L370,234.1 L374.7,236.8 L383.5,237.5 L384.8,238.8 L392.9,239.5 L393.6,240.4 L405.7,240.4 L406.5,242.3 L450,242.3 L450,242.3 " fill="none" stroke="#1d5a96" stroke-width="1.2" stroke-dasharray="4 1.5 2 1 3 2"/>
<path d="M62,445.15 L65.8,445.6 L69.6,447.7 L75.4,449 L76.8,451 L80.2,451 L82.1,452.5 L87.9,453.4 L88.8,454.4 L90,454.46 M100,455.37 L102.9,455.7 L103.8,457.2 L106.7,457.7 L109.1,460.2 L116.8,460.5 L118.8,461.5 L127.9,462 L129.8,463.3 L130,463.3 M205,470.5 L222,470.5 " fill="none" stroke="#c8102e" stroke-width="1.2" stroke-dasharray="3 2 2 1.5 2.5 2"/>
<path d="M322,422.3 L331.5,422.3 L332.8,423.7 L339,424.5 L344.4,426.5 L349.8,427.8 L357.8,429.8 L367.3,432.5 L374.6,434.4 L383.8,435.2 L384.6,436.7 L393.8,436.7 L394.6,438.2 L406.2,438.2 L406.9,439.8 L420.8,439.8 L421,440.74 " fill="none" stroke="#c8102e" stroke-width="1.2" stroke-dasharray="5 1.2 2.5 1 4 1.5"/>
</svg>
</body></html>
